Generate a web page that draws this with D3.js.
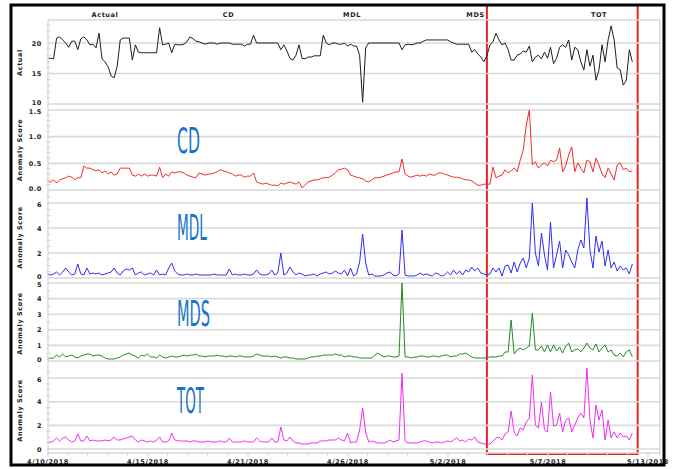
<!DOCTYPE html>
<html>
<head>
<meta charset="utf-8">
<script src="https://cdn.jsdelivr.net/npm/d3@7"></script>
<style>
  body { margin: 0; background: #fff; }
  svg text { font-family: "DejaVu Sans", sans-serif; }
</style>
</head>
<body>
<svg id="chart" width="673" height="469"></svg>
<script>
// Readings every 4 hours starting 4/10/2018 00:00
const startTime = new Date(2018, 3, 10, 0, 0);
const stepHours = 4;

const seriesNames = ["Actual", "CD", "MDL", "MDS", "TOT"];

const actual = [
  17.5,17.5,17.4,20.8,21.0,20.5,20.0,19.3,20.3,20.3,
  18.9,20.7,21.0,20.5,19.7,19.8,19.2,21.6,17.4,16.9,
  16.1,14.6,14.3,16.2,20.5,20.8,20.8,20.8,17.2,19.7,
  18.5,18.4,18.4,18.4,18.4,18.4,18.4,22.5,19.7,19.8,
  20.0,18.4,19.8,19.7,19.7,19.8,20.2,21.0,20.7,20.3,
  20.2,20.0,19.8,20.0,20.0,20.0,19.8,20.0,20.0,20.0,
  20.0,19.8,19.8,19.8,19.8,19.5,19.8,19.8,21.3,20.0,
  20.0,20.0,20.0,20.0,20.0,20.0,20.0,18.9,19.7,18.7,
  17.5,17.2,18.0,19.7,17.5,17.4,17.7,17.7,17.9,17.9,
  17.9,21.3,20.0,19.7,20.0,20.0,19.8,19.8,20.0,19.5,
  19.8,19.5,19.5,18.0,10.3,19.2,20.0,20.0,20.0,20.0,
  20.0,20.0,20.0,20.0,20.0,20.0,20.0,18.9,19.7,19.8,
  19.7,19.8,20.0,20.0,20.3,20.5,20.5,20.5,20.5,20.5,
  20.5,20.5,20.5,20.2,20.0,19.8,19.8,19.8,19.8,19.8,
  18.5,18.9,18.2,17.7,16.9,17.9,19.7,20.2,21.6,20.5,
  19.7,20.0,18.9,17.2,17.2,18.0,18.2,18.7,18.5,19.5,
  16.9,17.7,18.0,17.4,18.5,17.5,19.3,16.6,17.5,19.3,
  19.7,19.3,20.5,17.2,19.3,18.9,16.9,15.6,18.9,16.2,
  18.0,13.9,15.6,19.7,16.9,20.5,22.8,20.5,15.9,15.6,
  13.1,13.9,18.9,16.9
];

const cd = [
  0.17,0.15,0.19,0.13,0.19,0.21,0.23,0.26,0.24,0.19,
  0.23,0.23,0.45,0.41,0.41,0.38,0.36,0.38,0.32,0.36,
  0.30,0.34,0.28,0.30,0.41,0.41,0.41,0.41,0.28,0.26,
  0.30,0.26,0.30,0.26,0.28,0.28,0.26,0.43,0.23,0.30,
  0.26,0.34,0.32,0.34,0.34,0.32,0.28,0.26,0.24,0.23,
  0.32,0.30,0.28,0.30,0.30,0.32,0.34,0.38,0.36,0.34,
  0.32,0.30,0.26,0.28,0.28,0.24,0.26,0.26,0.32,0.15,
  0.13,0.11,0.13,0.11,0.09,0.09,0.08,0.13,0.11,0.13,
  0.15,0.13,0.11,0.15,0.04,0.09,0.15,0.17,0.19,0.19,
  0.21,0.23,0.23,0.24,0.28,0.32,0.38,0.39,0.41,0.38,
  0.28,0.26,0.24,0.23,0.21,0.17,0.15,0.19,0.23,0.23,
  0.24,0.26,0.28,0.30,0.32,0.34,0.34,0.58,0.30,0.26,
  0.24,0.26,0.28,0.26,0.28,0.26,0.30,0.28,0.28,0.32,
  0.32,0.30,0.28,0.26,0.24,0.24,0.23,0.21,0.19,0.19,
  0.17,0.13,0.09,0.09,0.11,0.11,0.11,0.43,0.23,0.26,
  0.28,0.38,0.32,0.36,0.41,0.34,0.56,0.75,1.22,1.50,
  0.47,0.53,0.41,0.47,0.51,0.45,0.56,0.53,0.56,0.79,
  0.34,0.45,0.66,0.81,0.34,0.51,0.41,0.32,0.56,0.53,
  0.34,0.60,0.47,0.30,0.23,0.41,0.30,0.19,0.47,0.51,
  0.38,0.41,0.34,0.36
];

const mdl = [
  0.32,0.24,0.32,0.48,0.24,0.48,0.80,0.48,0.24,0.32,
  1.12,0.32,0.24,0.80,0.32,0.40,0.32,0.40,0.24,0.32,
  0.40,0.48,0.80,0.40,0.24,0.56,0.72,0.64,0.80,0.24,
  0.40,0.48,0.24,0.32,0.40,0.24,0.64,0.24,0.32,0.24,
  0.80,1.20,0.56,0.32,0.24,0.24,0.32,0.24,0.24,0.32,
  0.24,0.24,0.24,0.24,0.24,0.32,0.24,0.24,0.24,0.24,
  0.72,0.24,0.32,0.24,0.24,0.32,0.24,0.24,0.32,0.64,
  0.32,0.24,0.24,0.32,0.64,0.24,0.40,2.00,0.24,0.40,
  0.88,0.48,0.24,0.40,0.32,0.16,0.24,0.24,0.32,0.16,
  0.32,0.40,0.48,0.32,0.40,0.56,0.40,0.32,0.64,0.16,
  0.80,0.16,0.32,1.28,3.52,1.20,0.24,0.32,0.16,0.16,
  0.16,0.24,0.40,0.48,0.24,0.16,0.32,3.84,0.24,0.16,
  0.16,0.16,0.24,0.40,0.24,0.32,0.24,0.16,0.40,0.32,
  0.16,0.24,0.48,0.24,0.64,0.32,0.56,0.24,0.64,0.48,
  0.88,0.56,0.80,0.40,0.32,0.24,0.32,0.80,0.48,0.80,
  0.16,0.96,1.04,0.40,1.28,0.48,1.20,1.60,0.80,1.60,
  6.00,2.00,0.96,3.60,1.84,0.64,4.48,0.80,1.84,2.96,
  0.80,2.24,1.84,1.28,0.80,2.24,3.04,2.40,6.40,2.24,
  0.80,3.36,2.08,2.96,0.96,2.24,0.80,1.28,0.56,0.96,
  0.64,0.80,0.32,1.12
];

const mds = [
  0.13,0.19,0.19,0.38,0.26,0.45,0.26,0.32,0.38,0.26,
  0.19,0.32,0.38,0.45,0.45,0.32,0.38,0.38,0.32,0.19,
  0.13,0.13,0.13,0.19,0.26,0.38,0.45,0.51,0.38,0.32,
  0.19,0.38,0.32,0.45,0.26,0.26,0.19,0.38,0.26,0.19,
  0.26,0.32,0.26,0.26,0.32,0.38,0.32,0.38,0.38,0.45,
  0.32,0.32,0.26,0.32,0.32,0.32,0.38,0.32,0.32,0.26,
  0.32,0.32,0.26,0.32,0.32,0.26,0.26,0.26,0.32,0.45,
  0.38,0.32,0.32,0.32,0.26,0.32,0.26,0.19,0.26,0.26,
  0.19,0.19,0.13,0.13,0.13,0.13,0.19,0.26,0.26,0.32,
  0.32,0.38,0.38,0.38,0.38,0.45,0.38,0.38,0.26,0.32,
  0.32,0.26,0.26,0.19,0.19,0.19,0.19,0.19,0.38,0.51,
  0.38,0.26,0.32,0.32,0.26,0.26,0.32,5.00,0.26,0.26,
  0.19,0.26,0.26,0.32,0.32,0.26,0.26,0.32,0.32,0.26,
  0.32,0.38,0.38,0.26,0.32,0.32,0.45,0.45,0.51,0.38,
  0.26,0.19,0.19,0.19,0.19,0.19,0.26,0.26,0.26,0.32,
  0.32,0.58,0.58,2.63,0.45,0.71,0.83,0.71,0.83,0.96,
  3.08,0.71,0.71,0.96,0.58,1.03,0.58,1.03,0.64,0.90,
  0.51,0.96,1.15,0.58,0.71,0.77,0.58,0.83,1.15,0.83,
  0.71,1.09,0.58,0.83,1.03,0.58,0.71,0.38,0.32,0.51,
  0.26,0.58,0.71,0.26
];

const tot = [
  0.59,0.59,0.68,0.93,0.68,0.93,1.01,0.76,0.59,0.68,
  1.27,0.68,0.68,1.10,0.68,0.76,0.68,0.68,0.68,0.76,
  0.68,0.76,1.01,0.76,0.76,0.85,0.93,1.01,1.10,0.76,
  0.59,0.76,0.68,0.59,0.68,0.59,0.76,1.01,0.59,0.59,
  0.68,1.35,0.76,0.68,0.68,0.68,0.68,0.59,0.68,0.68,
  0.59,0.59,0.59,0.68,0.59,0.59,0.59,0.68,0.59,0.59,
  0.93,0.59,0.59,0.59,0.59,0.68,0.59,0.59,0.59,0.93,
  0.68,0.59,0.59,0.59,0.93,0.59,0.59,1.86,0.76,0.68,
  1.01,0.68,0.51,0.51,0.42,0.42,0.42,0.51,0.51,0.51,
  0.68,0.68,0.68,0.76,0.76,0.76,0.93,0.76,0.68,1.35,
  0.51,0.59,0.59,1.61,3.47,1.44,0.59,0.68,0.59,0.51,
  0.51,0.51,0.59,0.76,0.59,0.68,0.76,6.42,0.68,0.51,
  0.51,0.51,0.51,0.59,0.68,0.68,0.59,0.51,0.59,0.59,
  0.51,0.59,0.68,0.59,0.76,0.93,0.68,0.76,0.59,0.85,
  0.76,1.01,0.59,0.51,0.42,0.42,0.42,0.68,0.93,1.01,
  0.76,1.27,1.44,3.21,1.44,1.10,1.78,1.61,2.28,2.62,
  6.26,2.03,1.78,3.97,1.61,1.44,4.82,1.94,2.03,3.04,
  1.44,2.45,2.62,1.44,2.03,2.62,3.04,2.62,6.85,2.45,
  0.93,3.72,2.45,3.30,0.76,2.45,0.93,1.44,0.93,1.35,
  1.01,1.10,0.76,1.35
];

// Tick values
const dateTicks = [
  new Date(2018, 3, 10, 0), new Date(2018, 3, 15, 12), new Date(2018, 3, 21, 0),
  new Date(2018, 3, 26, 12), new Date(2018, 4, 2, 0), new Date(2018, 4, 7, 12),
  new Date(2018, 4, 13, 0)
];
const actualTicks = [10, 15, 20];
const cdTicks = [0, 0.5, 1.0, 1.5];
const mdlTicks = [0, 2, 4, 6];
const mdsTicks = [0, 1, 2, 3, 4, 5];
const totTicks = [0, 2, 4, 6];

// Highlighted period
const highlightStart = new Date(2018, 4, 4, 4);
const highlightEnd = new Date(2018, 4, 12, 11);

const times = actual.map((_, i) => d3.timeHour.offset(startTime, i * stepHours));

const svg = d3.select("#chart");
const plotLeft = 48, plotRight = 660;
const x = d3.scaleTime()
  .domain([new Date(2018, 3, 10), new Date(2018, 4, 13)])
  .range([47.5, 647.5]);

const panels = [
  { name: "Actual", title: "Actual", values: actual, color: "#1e1e1e", top: 20, bottom: 105,
    domain: [9.84, 23.77], ticks: actualTicks, minorStep: 1, fmt: d3.format("d"), big: false },
  { name: "CD", title: "Anomaly Score", values: cd, color: "#f22b2b", top: 107, bottom: 193,
    domain: [-0.056, 1.556], ticks: cdTicks, minorStep: 0.1, fmt: d3.format(".1f"), big: true },
  { name: "MDL", title: "Anomaly Score", values: mdl, color: "#2f2ff0", top: 195, bottom: 280,
    domain: [-0.16, 6.64], ticks: mdlTicks, minorStep: 0.5, fmt: d3.format("d"), big: true },
  { name: "MDS", title: "Anomaly Score", values: mds, color: "#238a23", top: 281, bottom: 366,
    domain: [-0.32, 5.13], ticks: mdsTicks, minorStep: 0.5, fmt: d3.format("d"), big: true },
  { name: "TOT", title: "Anomaly Score", values: tot, color: "#f22cf2", top: 368, bottom: 453,
    domain: [-0.34, 6.85], ticks: totTicks, minorStep: 0.5, fmt: d3.format("d"), big: true }
];

const gridColor = "#d9d9d9";
const smallText = sel => sel
  .attr("font-size", 6.5).attr("font-weight", "bold")
  .attr("letter-spacing", 0.6).attr("fill", "#222");

// Column header row
const headerX = d3.scalePoint().domain(seriesNames).range([105, 599]);
svg.append("g").selectAll("text").data(seriesNames).join("text")
  .attr("x", d => headerX(d)).attr("y", 17)
  .attr("text-anchor", "middle")
  .text(d => d)
  .call(smallText);

// Highlight box (drawn under the frame)
svg.append("rect")
  .attr("x", x(highlightStart)).attr("y", 5)
  .attr("width", x(highlightEnd) - x(highlightStart)).attr("height", 449)
  .attr("fill", "none").attr("stroke", "#e8221f").attr("stroke-width", 2);

panels.forEach((p, pi) => {
  const y = d3.scaleLinear().domain(p.domain).range([p.bottom, p.top]);
  const g = svg.append("g");

  // horizontal gridlines at labelled ticks
  g.selectAll("line.grid").data(p.ticks).join("line")
    .attr("class", "grid")
    .attr("x1", plotLeft).attr("x2", plotRight)
    .attr("y1", d => y(d)).attr("y2", d => y(d))
    .attr("stroke", gridColor).attr("stroke-width", 1.6);

  // minor ticks along the value axis
  const minor = d3.range(Math.ceil(p.domain[0] / p.minorStep) * p.minorStep, p.domain[1], p.minorStep)
    .filter(v => !p.ticks.some(t => Math.abs(t - v) < 1e-6));
  g.selectAll("line.minor").data(minor).join("line")
    .attr("class", "minor")
    .attr("x1", plotLeft - 2).attr("x2", plotLeft + 3)
    .attr("y1", d => y(d)).attr("y2", d => y(d))
    .attr("stroke", gridColor).attr("stroke-width", 1);

  // value axis labels; the extreme labels are nudged apart where panels meet
  const lo = d3.min(p.ticks), hi = d3.max(p.ticks);
  const axis = g.append("g")
    .attr("transform", `translate(${plotLeft},0)`)
    .call(d3.axisLeft(y).tickValues(p.ticks).tickFormat(p.fmt).tickSize(0).tickPadding(6));
  axis.select(".domain").remove();
  axis.selectAll("text").call(smallText).attr("font-family", "DejaVu Sans")
    .attr("dy", d => {
      if (d === lo && pi < panels.length - 1) return "0.1em";
      if (d === hi && pi > 0) return "0.55em";
      return "0.32em";
    });

  // rotated axis title
  g.append("text")
    .attr("transform", `translate(22,${(p.top + p.bottom) / 2}) rotate(-90)`)
    .attr("text-anchor", "middle")
    .text(p.title)
    .call(smallText);

  // series line
  const line = d3.line().x((d, i) => x(times[i])).y(d => y(d));
  g.append("path").datum(p.values)
    .attr("d", line)
    .attr("fill", "none")
    .attr("stroke", p.color)
    .attr("stroke-width", 1)
    .attr("stroke-linejoin", "round");

  // large series name inside the panel
  if (p.big) {
    const widths = { CD: 23, MDL: 30, MDS: 33, TOT: 27 };
    g.append("text")
      .attr("x", 177)
      .attr("y", y(p.domain[0]) - (p.bottom - p.top) * 0.47)
      .attr("font-family", "Liberation Sans Narrow, Liberation Sans, sans-serif")
      .attr("font-size", 36)
      .attr("fill", "#1874c8")
      .attr("textLength", widths[p.name])
      .attr("lengthAdjust", "spacingAndGlyphs")
      .text(p.name);
  }
});

// plot edges
svg.append("line").attr("x1", plotLeft).attr("x2", plotLeft).attr("y1", 20).attr("y2", 455)
  .attr("stroke", gridColor).attr("stroke-width", 1.4);
svg.append("line").attr("x1", plotRight).attr("x2", plotRight).attr("y1", 20).attr("y2", 455)
  .attr("stroke", gridColor).attr("stroke-width", 1.4);
svg.append("line").attr("x1", plotLeft).attr("x2", plotRight).attr("y1", 20).attr("y2", 20)
  .attr("stroke", gridColor).attr("stroke-width", 1.4);

// time axis
const minorDates = [];
for (let k = 0; k < dateTicks.length - 1; k++) {
  const a = +dateTicks[k], b = +dateTicks[k + 1];
  for (let j = 1; j < 5; j++) minorDates.push(new Date(a + (b - a) * j / 5));
}
svg.append("g").selectAll("line").data(minorDates).join("line")
  .attr("x1", d => x(d)).attr("x2", d => x(d))
  .attr("y1", 452).attr("y2", 456)
  .attr("stroke", gridColor).attr("stroke-width", 1);

const xAxis = svg.append("g")
  .attr("transform", "translate(0,453)")
  .call(d3.axisBottom(x).tickValues(dateTicks).tickFormat(d3.timeFormat("%-m/%-d/%Y")).tickSize(4).tickPadding(2));
xAxis.select(".domain").attr("stroke", gridColor).attr("stroke-width", 1.4)
  .attr("d", `M${plotLeft},0H${plotRight}`);
xAxis.selectAll(".tick line").attr("stroke", gridColor).attr("stroke-width", 1.2);
xAxis.selectAll("text").call(smallText).attr("font-family", "DejaVu Sans");

// outer frame
svg.append("rect")
  .attr("x", 11).attr("y", 5).attr("width", 653).attr("height", 460)
  .attr("fill", "none").attr("stroke", "#000").attr("stroke-width", 3);
</script>
</body>
</html>
